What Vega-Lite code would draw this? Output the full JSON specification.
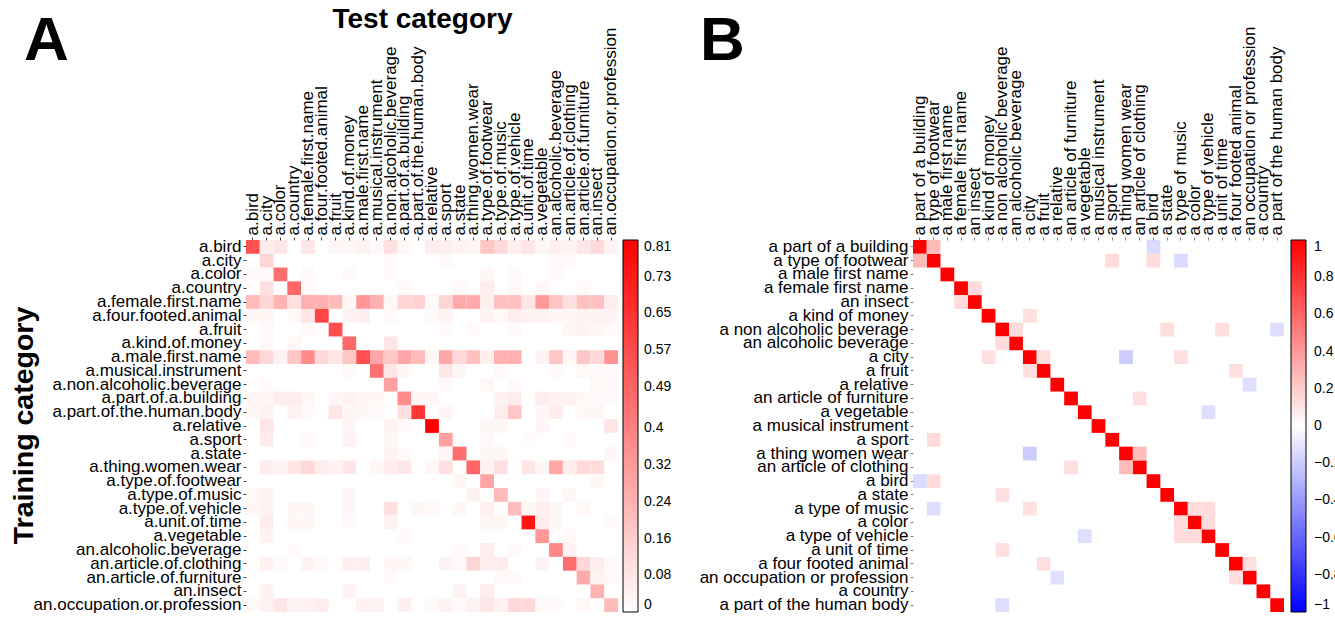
{
  "$schema": "https://vega.github.io/schema/vega-lite/v6.json",
  "background": "white",
  "autosize": {"type": "pad"},
  "padding": {"left": 9, "top": 5, "right": 0, "bottom": 0},
  "config": {"view": {"stroke": null}, "font": "Liberation Sans"},
  "bounds": "flush",
  "spacing": 295,
  "resolve": {"scale": {"color": "independent"}, "legend": {"color": "independent"}},
  "datasets": {
    "catsA": [
      {"i":0,"name":"a.bird"},{"i":1,"name":"a.city"},{"i":2,"name":"a.color"},{"i":3,"name":"a.country"},
      {"i":4,"name":"a.female.first.name"},{"i":5,"name":"a.four.footed.animal"},{"i":6,"name":"a.fruit"},
      {"i":7,"name":"a.kind.of.money"},{"i":8,"name":"a.male.first.name"},{"i":9,"name":"a.musical.instrument"},
      {"i":10,"name":"a.non.alcoholic.beverage"},{"i":11,"name":"a.part.of.a.building"},{"i":12,"name":"a.part.of.the.human.body"},
      {"i":13,"name":"a.relative"},{"i":14,"name":"a.sport"},{"i":15,"name":"a.state"},{"i":16,"name":"a.thing.women.wear"},
      {"i":17,"name":"a.type.of.footwear"},{"i":18,"name":"a.type.of.music"},{"i":19,"name":"a.type.of.vehicle"},
      {"i":20,"name":"a.unit.of.time"},{"i":21,"name":"a.vegetable"},{"i":22,"name":"an.alcoholic.beverage"},
      {"i":23,"name":"an.article.of.clothing"},{"i":24,"name":"an.article.of.furniture"},{"i":25,"name":"an.insect"},
      {"i":26,"name":"an.occupation.or.profession"}
    ],
    "catsB": [
      {"i":0,"name":"a part of a building"},{"i":1,"name":"a type of footwear"},{"i":2,"name":"a male first name"},
      {"i":3,"name":"a female first name"},{"i":4,"name":"an insect"},{"i":5,"name":"a kind of money"},
      {"i":6,"name":"a non alcoholic beverage"},{"i":7,"name":"an alcoholic beverage"},{"i":8,"name":"a city"},
      {"i":9,"name":"a fruit"},{"i":10,"name":"a relative"},{"i":11,"name":"an article of furniture"},
      {"i":12,"name":"a vegetable"},{"i":13,"name":"a musical instrument"},{"i":14,"name":"a sport"},
      {"i":15,"name":"a thing women wear"},{"i":16,"name":"an article of clothing"},{"i":17,"name":"a bird"},
      {"i":18,"name":"a state"},{"i":19,"name":"a type of music"},{"i":20,"name":"a color"},
      {"i":21,"name":"a type of vehicle"},{"i":22,"name":"a unit of time"},{"i":23,"name":"a four footed animal"},
      {"i":24,"name":"an occupation or profession"},{"i":25,"name":"a country"},{"i":26,"name":"a part of the human body"}
    ],
    "cellsA": [
      {"r":0,"c":0,"v":0.55},{"r":0,"c":1,"v":0.06},{"r":0,"c":2,"v":0.08},{"r":0,"c":4,"v":0.08},{"r":0,"c":6,"v":0.03},{"r":0,"c":7,"v":0.03},{"r":0,"c":8,"v":0.04},{"r":0,"c":9,"v":0.02},{"r":0,"c":10,"v":0.1},{"r":0,"c":11,"v":0.03},{"r":0,"c":13,"v":0.06},{"r":0,"c":14,"v":0.05},{"r":0,"c":15,"v":0.04},{"r":0,"c":16,"v":0.03},{"r":0,"c":17,"v":0.18},{"r":0,"c":18,"v":0.12},{"r":0,"c":19,"v":0.05},{"r":0,"c":20,"v":0.08},{"r":0,"c":21,"v":0.03},{"r":0,"c":22,"v":0.05},{"r":0,"c":23,"v":0.04},{"r":0,"c":24,"v":0.08},{"r":0,"c":25,"v":0.12},{"r":0,"c":26,"v":0.04},
      {"r":1,"c":1,"v":0.13},{"r":1,"c":10,"v":0.02},{"r":1,"c":14,"v":0.02},{"r":1,"c":22,"v":0.02},{"r":1,"c":23,"v":0.02},
      {"r":2,"c":0,"v":0.02},{"r":2,"c":1,"v":0.02},{"r":2,"c":2,"v":0.46},{"r":2,"c":4,"v":0.02},{"r":2,"c":7,"v":0.02},{"r":2,"c":10,"v":0.02},{"r":2,"c":17,"v":0.03},{"r":2,"c":19,"v":0.02},{"r":2,"c":22,"v":0.02},
      {"r":3,"c":1,"v":0.1},{"r":3,"c":3,"v":0.48},{"r":3,"c":4,"v":0.02},{"r":3,"c":11,"v":0.02},{"r":3,"c":15,"v":0.02},{"r":3,"c":17,"v":0.06},{"r":3,"c":19,"v":0.02},{"r":3,"c":21,"v":0.03},{"r":3,"c":24,"v":0.02},
      {"r":4,"c":0,"v":0.22},{"r":4,"c":1,"v":0.13},{"r":4,"c":2,"v":0.24},{"r":4,"c":3,"v":0.1},{"r":4,"c":4,"v":0.25},{"r":4,"c":5,"v":0.25},{"r":4,"c":6,"v":0.22},{"r":4,"c":7,"v":0.03},{"r":4,"c":8,"v":0.33},{"r":4,"c":9,"v":0.25},{"r":4,"c":10,"v":0.03},{"r":4,"c":11,"v":0.13},{"r":4,"c":12,"v":0.14},{"r":4,"c":13,"v":0.02},{"r":4,"c":14,"v":0.13},{"r":4,"c":15,"v":0.27},{"r":4,"c":16,"v":0.27},{"r":4,"c":17,"v":0.05},{"r":4,"c":18,"v":0.2},{"r":4,"c":19,"v":0.2},{"r":4,"c":20,"v":0.08},{"r":4,"c":21,"v":0.32},{"r":4,"c":22,"v":0.19},{"r":4,"c":23,"v":0.1},{"r":4,"c":24,"v":0.2},{"r":4,"c":25,"v":0.2},{"r":4,"c":26,"v":0.06},
      {"r":5,"c":0,"v":0.03},{"r":5,"c":1,"v":0.03},{"r":5,"c":3,"v":0.02},{"r":5,"c":4,"v":0.08},{"r":5,"c":5,"v":0.59},{"r":5,"c":7,"v":0.04},{"r":5,"c":8,"v":0.05},{"r":5,"c":10,"v":0.02},{"r":5,"c":13,"v":0.02},{"r":5,"c":14,"v":0.04},{"r":5,"c":17,"v":0.04},{"r":5,"c":18,"v":0.02},{"r":5,"c":19,"v":0.06},{"r":5,"c":20,"v":0.04},{"r":5,"c":21,"v":0.04},{"r":5,"c":22,"v":0.03},{"r":5,"c":23,"v":0.03},{"r":5,"c":24,"v":0.04},{"r":5,"c":25,"v":0.04},{"r":5,"c":26,"v":0.04},
      {"r":6,"c":1,"v":0.02},{"r":6,"c":4,"v":0.02},{"r":6,"c":6,"v":0.57},{"r":6,"c":14,"v":0.02},{"r":6,"c":16,"v":0.02},{"r":6,"c":19,"v":0.02},{"r":6,"c":23,"v":0.03},{"r":6,"c":24,"v":0.04},{"r":6,"c":25,"v":0.03},{"r":6,"c":26,"v":0.02},
      {"r":7,"c":1,"v":0.02},{"r":7,"c":3,"v":0.03},{"r":7,"c":7,"v":0.48},{"r":7,"c":10,"v":0.08},
      {"r":8,"c":0,"v":0.22},{"r":8,"c":1,"v":0.12},{"r":8,"c":2,"v":0.04},{"r":8,"c":3,"v":0.18},{"r":8,"c":4,"v":0.37},{"r":8,"c":5,"v":0.12},{"r":8,"c":6,"v":0.08},{"r":8,"c":7,"v":0.18},{"r":8,"c":8,"v":0.56},{"r":8,"c":9,"v":0.28},{"r":8,"c":10,"v":0.18},{"r":8,"c":11,"v":0.28},{"r":8,"c":12,"v":0.22},{"r":8,"c":13,"v":0.03},{"r":8,"c":14,"v":0.28},{"r":8,"c":15,"v":0.12},{"r":8,"c":16,"v":0.2},{"r":8,"c":17,"v":0.05},{"r":8,"c":18,"v":0.25},{"r":8,"c":19,"v":0.25},{"r":8,"c":21,"v":0.04},{"r":8,"c":22,"v":0.18},{"r":8,"c":23,"v":0.03},{"r":8,"c":24,"v":0.18},{"r":8,"c":25,"v":0.12},{"r":8,"c":26,"v":0.35},
      {"r":9,"c":7,"v":0.02},{"r":9,"c":9,"v":0.45},{"r":9,"c":10,"v":0.08},{"r":9,"c":11,"v":0.03},{"r":9,"c":14,"v":0.08},{"r":9,"c":15,"v":0.03},{"r":9,"c":18,"v":0.02},{"r":9,"c":22,"v":0.02},{"r":9,"c":24,"v":0.03},{"r":9,"c":25,"v":0.02},{"r":9,"c":26,"v":0.02},
      {"r":10,"c":1,"v":0.02},{"r":10,"c":10,"v":0.3},{"r":10,"c":14,"v":0.02},{"r":10,"c":17,"v":0.03},{"r":10,"c":19,"v":0.02},{"r":10,"c":25,"v":0.03},{"r":10,"c":26,"v":0.03},
      {"r":11,"c":0,"v":0.03},{"r":11,"c":1,"v":0.03},{"r":11,"c":2,"v":0.06},{"r":11,"c":3,"v":0.06},{"r":11,"c":4,"v":0.03},{"r":11,"c":6,"v":0.03},{"r":11,"c":7,"v":0.04},{"r":11,"c":8,"v":0.03},{"r":11,"c":9,"v":0.03},{"r":11,"c":11,"v":0.37},{"r":11,"c":12,"v":0.03},{"r":11,"c":13,"v":0.03},{"r":11,"c":18,"v":0.04},{"r":11,"c":19,"v":0.06},{"r":11,"c":21,"v":0.06},{"r":11,"c":22,"v":0.04},{"r":11,"c":23,"v":0.04},{"r":11,"c":24,"v":0.03},{"r":11,"c":25,"v":0.02},{"r":11,"c":26,"v":0.02},
      {"r":12,"c":0,"v":0.03},{"r":12,"c":1,"v":0.04},{"r":12,"c":3,"v":0.04},{"r":12,"c":4,"v":0.02},{"r":12,"c":6,"v":0.08},{"r":12,"c":7,"v":0.03},{"r":12,"c":8,"v":0.03},{"r":12,"c":9,"v":0.02},{"r":12,"c":11,"v":0.1},{"r":12,"c":12,"v":0.64},{"r":12,"c":14,"v":0.03},{"r":12,"c":18,"v":0.06},{"r":12,"c":19,"v":0.18},{"r":12,"c":21,"v":0.03},{"r":12,"c":22,"v":0.06},{"r":12,"c":24,"v":0.03},{"r":12,"c":25,"v":0.03},
      {"r":13,"c":1,"v":0.08},{"r":13,"c":7,"v":0.03},{"r":13,"c":10,"v":0.04},{"r":13,"c":11,"v":0.02},{"r":13,"c":13,"v":0.81},{"r":13,"c":17,"v":0.03},{"r":13,"c":18,"v":0.03},{"r":13,"c":21,"v":0.03},{"r":13,"c":26,"v":0.08},
      {"r":14,"c":1,"v":0.06},{"r":14,"c":4,"v":0.02},{"r":14,"c":7,"v":0.04},{"r":14,"c":10,"v":0.03},{"r":14,"c":14,"v":0.3},{"r":14,"c":17,"v":0.02},{"r":14,"c":20,"v":0.02},{"r":14,"c":23,"v":0.02},
      {"r":15,"c":10,"v":0.04},{"r":15,"c":11,"v":0.02},{"r":15,"c":14,"v":0.03},{"r":15,"c":15,"v":0.46},{"r":15,"c":17,"v":0.03},{"r":15,"c":18,"v":0.03},{"r":15,"c":26,"v":0.03},
      {"r":16,"c":1,"v":0.06},{"r":16,"c":2,"v":0.04},{"r":16,"c":3,"v":0.08},{"r":16,"c":4,"v":0.12},{"r":16,"c":5,"v":0.06},{"r":16,"c":6,"v":0.04},{"r":16,"c":7,"v":0.08},{"r":16,"c":9,"v":0.03},{"r":16,"c":10,"v":0.06},{"r":16,"c":11,"v":0.08},{"r":16,"c":13,"v":0.03},{"r":16,"c":14,"v":0.1},{"r":16,"c":16,"v":0.49},{"r":16,"c":17,"v":0.04},{"r":16,"c":18,"v":0.1},{"r":16,"c":20,"v":0.08},{"r":16,"c":21,"v":0.03},{"r":16,"c":22,"v":0.28},{"r":16,"c":23,"v":0.06},{"r":16,"c":24,"v":0.12},{"r":16,"c":25,"v":0.11},
      {"r":17,"c":15,"v":0.03},{"r":17,"c":17,"v":0.29},{"r":17,"c":25,"v":0.03},
      {"r":18,"c":0,"v":0.02},{"r":18,"c":1,"v":0.04},{"r":18,"c":7,"v":0.03},{"r":18,"c":16,"v":0.04},{"r":18,"c":18,"v":0.22},{"r":18,"c":21,"v":0.03},{"r":18,"c":23,"v":0.03},
      {"r":19,"c":0,"v":0.03},{"r":19,"c":1,"v":0.04},{"r":19,"c":3,"v":0.03},{"r":19,"c":4,"v":0.03},{"r":19,"c":7,"v":0.03},{"r":19,"c":10,"v":0.1},{"r":19,"c":12,"v":0.03},{"r":19,"c":13,"v":0.02},{"r":19,"c":15,"v":0.03},{"r":19,"c":17,"v":0.05},{"r":19,"c":19,"v":0.21},{"r":19,"c":20,"v":0.03},{"r":19,"c":21,"v":0.05},{"r":19,"c":22,"v":0.03},{"r":19,"c":24,"v":0.03},
      {"r":20,"c":1,"v":0.06},{"r":20,"c":3,"v":0.03},{"r":20,"c":4,"v":0.03},{"r":20,"c":7,"v":0.02},{"r":20,"c":10,"v":0.04},{"r":20,"c":17,"v":0.03},{"r":20,"c":18,"v":0.03},{"r":20,"c":20,"v":0.75},{"r":20,"c":21,"v":0.06},{"r":20,"c":22,"v":0.03},{"r":20,"c":26,"v":0.02},
      {"r":21,"c":1,"v":0.04},{"r":21,"c":11,"v":0.02},{"r":21,"c":21,"v":0.33},{"r":21,"c":23,"v":0.02},
      {"r":22,"c":3,"v":0.02},{"r":22,"c":15,"v":0.02},{"r":22,"c":17,"v":0.06},{"r":22,"c":19,"v":0.02},{"r":22,"c":22,"v":0.38},{"r":22,"c":23,"v":0.04},
      {"r":23,"c":1,"v":0.04},{"r":23,"c":2,"v":0.02},{"r":23,"c":4,"v":0.04},{"r":23,"c":5,"v":0.02},{"r":23,"c":7,"v":0.05},{"r":23,"c":8,"v":0.05},{"r":23,"c":10,"v":0.03},{"r":23,"c":11,"v":0.03},{"r":23,"c":14,"v":0.04},{"r":23,"c":15,"v":0.02},{"r":23,"c":16,"v":0.13},{"r":23,"c":17,"v":0.06},{"r":23,"c":18,"v":0.06},{"r":23,"c":21,"v":0.04},{"r":23,"c":23,"v":0.46},{"r":23,"c":24,"v":0.12},{"r":23,"c":25,"v":0.06},{"r":23,"c":26,"v":0.02},
      {"r":24,"c":10,"v":0.02},{"r":24,"c":18,"v":0.02},{"r":24,"c":19,"v":0.02},{"r":24,"c":24,"v":0.27},{"r":24,"c":25,"v":0.04},{"r":24,"c":26,"v":0.02},
      {"r":25,"c":1,"v":0.04},{"r":25,"c":7,"v":0.04},{"r":25,"c":15,"v":0.04},{"r":25,"c":17,"v":0.06},{"r":25,"c":25,"v":0.24},
      {"r":26,"c":0,"v":0.02},{"r":26,"c":1,"v":0.04},{"r":26,"c":2,"v":0.08},{"r":26,"c":3,"v":0.04},{"r":26,"c":4,"v":0.04},{"r":26,"c":5,"v":0.06},{"r":26,"c":8,"v":0.04},{"r":26,"c":9,"v":0.04},{"r":26,"c":11,"v":0.05},{"r":26,"c":13,"v":0.02},{"r":26,"c":14,"v":0.04},{"r":26,"c":15,"v":0.02},{"r":26,"c":16,"v":0.04},{"r":26,"c":17,"v":0.08},{"r":26,"c":18,"v":0.04},{"r":26,"c":19,"v":0.12},{"r":26,"c":20,"v":0.12},{"r":26,"c":21,"v":0.02},{"r":26,"c":22,"v":0.02},{"r":26,"c":24,"v":0.03},{"r":26,"c":26,"v":0.22}
    ],
    "cellsB": [
      {"r":0,"c":0,"v":1},{"r":1,"c":1,"v":1},{"r":2,"c":2,"v":1},{"r":3,"c":3,"v":1},{"r":4,"c":4,"v":1},{"r":5,"c":5,"v":1},{"r":6,"c":6,"v":1},{"r":7,"c":7,"v":1},{"r":8,"c":8,"v":1},{"r":9,"c":9,"v":1},{"r":10,"c":10,"v":1},{"r":11,"c":11,"v":1},{"r":12,"c":12,"v":1},{"r":13,"c":13,"v":1},{"r":14,"c":14,"v":1},{"r":15,"c":15,"v":1},{"r":16,"c":16,"v":1},{"r":17,"c":17,"v":1},{"r":18,"c":18,"v":1},{"r":19,"c":19,"v":1},{"r":20,"c":20,"v":1},{"r":21,"c":21,"v":1},{"r":22,"c":22,"v":1},{"r":23,"c":23,"v":1},{"r":24,"c":24,"v":1},{"r":25,"c":25,"v":1},{"r":26,"c":26,"v":1},
      {"r":0,"c":1,"v":0.27},{"r":0,"c":17,"v":-0.14},
      {"r":1,"c":0,"v":0.27},{"r":1,"c":14,"v":0.14},{"r":1,"c":17,"v":0.14},{"r":1,"c":19,"v":-0.14},
      {"r":3,"c":4,"v":0.14},{"r":4,"c":3,"v":0.14},
      {"r":5,"c":8,"v":0.12},
      {"r":6,"c":7,"v":0.14},{"r":6,"c":18,"v":0.13},{"r":6,"c":22,"v":0.13},{"r":6,"c":26,"v":-0.13},
      {"r":7,"c":6,"v":0.14},
      {"r":8,"c":5,"v":0.12},{"r":8,"c":9,"v":0.13},{"r":8,"c":15,"v":-0.2},{"r":8,"c":19,"v":0.12},
      {"r":9,"c":8,"v":0.13},{"r":9,"c":23,"v":0.12},
      {"r":10,"c":24,"v":-0.13},
      {"r":11,"c":16,"v":0.12},
      {"r":12,"c":21,"v":-0.13},
      {"r":14,"c":1,"v":0.14},
      {"r":15,"c":16,"v":0.27},{"r":15,"c":8,"v":-0.2},
      {"r":16,"c":15,"v":0.27},{"r":16,"c":11,"v":0.12},
      {"r":17,"c":0,"v":-0.14},{"r":17,"c":1,"v":0.14},
      {"r":18,"c":6,"v":0.12},
      {"r":19,"c":20,"v":0.14},{"r":19,"c":21,"v":0.14},{"r":19,"c":1,"v":-0.13},{"r":19,"c":8,"v":0.12},
      {"r":20,"c":19,"v":0.14},{"r":20,"c":21,"v":0.14},
      {"r":21,"c":19,"v":0.14},{"r":21,"c":20,"v":0.14},{"r":21,"c":12,"v":-0.13},
      {"r":22,"c":6,"v":0.12},
      {"r":23,"c":24,"v":0.13},{"r":23,"c":9,"v":0.12},
      {"r":24,"c":23,"v":0.13},{"r":24,"c":10,"v":-0.12},
      {"r":26,"c":6,"v":-0.13}
    ]
  },
  "hconcat": [
    {
      "width": 372,
      "height": 372,
      "data": {"name": "cellsA"},
      "transform": [
        {"lookup": "r", "from": {"data": {"name": "catsA"}, "key": "i", "fields": ["name"]}, "as": ["row"]},
        {"lookup": "c", "from": {"data": {"name": "catsA"}, "key": "i", "fields": ["name"]}, "as": ["col"]}
      ],
      "title": {"text": "A", "fontSize": 62, "fontWeight": "bold", "font": "Liberation Sans", "color": "black", "anchor": "start", "frame": "group", "dx": -222, "dy": 72},
      "mark": {"type": "rect"},
      "encoding": {
        "x": {
          "field": "col", "type": "ordinal", "sort": {"field": "c", "op": "min"},
          "scale": {"paddingInner": 0, "paddingOuter": 0},
          "axis": {
            "orient": "top", "labelAngle": -90, "labelAlign": "left", "labelBaseline": "middle",
            "labelFontSize": 17, "labelColor": "black", "labelPadding": 2, "labelLimit": 0,
            "tickSize": 3, "tickColor": "#444", "domain": false,
            "title": "Test category", "titleFontSize": 28, "titleFontWeight": "bold", "titleColor": "black",
            "titleX": 176, "titleY": -235, "titleBaseline": "top", "titleAlign": "center", "titleAngle": 0
          }
        },
        "y": {
          "field": "row", "type": "ordinal", "sort": {"field": "r", "op": "min"},
          "scale": {"paddingInner": 0, "paddingOuter": 0},
          "axis": {
            "labelFontSize": 17, "labelColor": "black", "labelPadding": 2, "labelLimit": 0,
            "tickSize": 3, "tickColor": "#444", "domain": false,
            "title": "Training category", "titleFontSize": 28.5, "titleFontWeight": "bold", "titleColor": "black",
            "titleX": -223, "titleY": 185, "titleAngle": 270, "titleAlign": "center", "titleBaseline": "middle"
          }
        },
        "color": {
          "field": "v", "type": "quantitative",
          "scale": {"domain": [0, 0.81], "range": ["#ffffff", "#ff0000"], "interpolate": "rgb"},
          "legend": {
            "title": null, "orient": "right", "direction": "vertical", "offset": 5, "padding": 0,
            "gradientLength": 372, "gradientThickness": 15,
            "gradientStrokeColor": "black", "gradientStrokeWidth": 1,
            "values": [0, 0.08, 0.16, 0.24, 0.32, 0.4, 0.49, 0.57, 0.65, 0.73, 0.81],
            "format": ".2~f",
            "labelFontSize": 14, "labelColor": "black", "labelOffset": 6, "labelBaseline": "middle", "labelOverlap": false
          }
        }
      }
    },
    {
      "width": 371,
      "height": 372,
      "data": {"name": "cellsB"},
      "transform": [
        {"lookup": "r", "from": {"data": {"name": "catsB"}, "key": "i", "fields": ["name"]}, "as": ["row"]},
        {"lookup": "c", "from": {"data": {"name": "catsB"}, "key": "i", "fields": ["name"]}, "as": ["col"]}
      ],
      "title": {"text": "B", "fontSize": 62, "fontWeight": "bold", "font": "Liberation Sans", "color": "black", "anchor": "start", "frame": "group", "dx": -213, "dy": 51},
      "mark": {"type": "rect"},
      "encoding": {
        "x": {
          "field": "col", "type": "ordinal", "sort": {"field": "c", "op": "min"},
          "scale": {"paddingInner": 0, "paddingOuter": 0},
          "axis": {
            "orient": "top", "labelAngle": -90, "labelAlign": "left", "labelBaseline": "middle",
            "labelFontSize": 17, "labelColor": "black", "labelPadding": 2, "labelLimit": 0,
            "tickSize": 3, "tickColor": "#888", "domain": false, "title": null
          }
        },
        "y": {
          "field": "row", "type": "ordinal", "sort": {"field": "r", "op": "min"},
          "scale": {"paddingInner": 0, "paddingOuter": 0},
          "axis": {
            "labelFontSize": 17, "labelColor": "black", "labelPadding": 2, "labelLimit": 0,
            "tickSize": 3, "tickColor": "#888", "domain": false, "title": null
          }
        },
        "color": {
          "field": "v", "type": "quantitative",
          "scale": {"domain": [-1, 0, 1], "range": ["#0000ff", "#ffffff", "#ff0000"], "interpolate": "rgb"},
          "legend": {
            "title": null, "orient": "right", "direction": "vertical", "offset": 7, "padding": 0,
            "gradientLength": 372, "gradientThickness": 15,
            "gradientStrokeColor": "black", "gradientStrokeWidth": 1,
            "values": [-1, -0.8, -0.6, -0.4, -0.2, 0, 0.2, 0.4, 0.6, 0.8, 1],
            "format": ".1~f",
            "labelFontSize": 14, "labelColor": "black", "labelOffset": 8, "labelBaseline": "middle", "labelOverlap": false
          }
        }
      }
    }
  ]
}
